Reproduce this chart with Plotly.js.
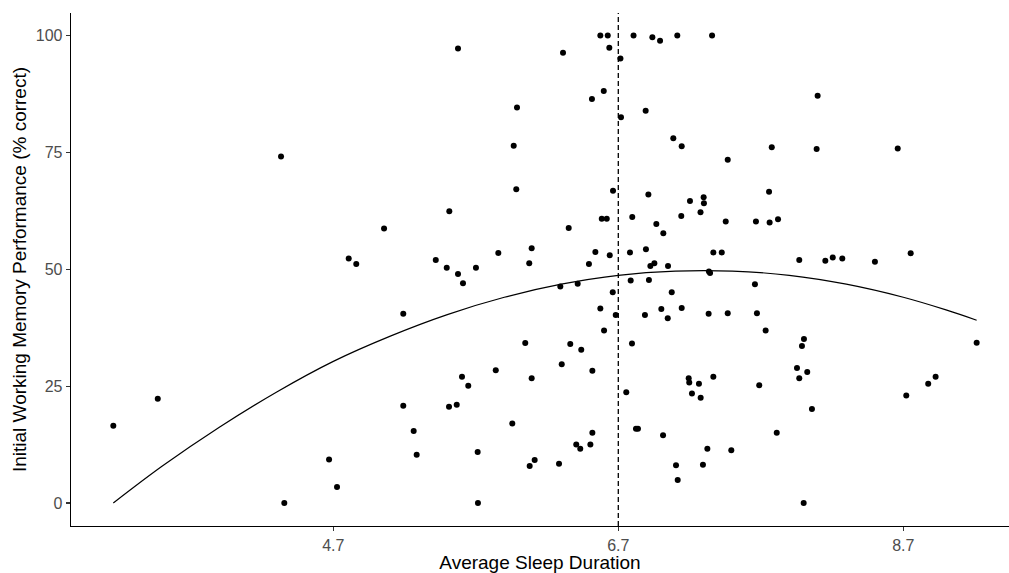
<!DOCTYPE html>
<html>
<head>
<meta charset="utf-8">
<script src="https://cdn.plot.ly/plotly-3.0.1.min.js"></script>
<style>
html,body{margin:0;padding:0;background:#fff;}
#chart{width:1009px;height:573px;}
</style>
</head>
<body>
<div id="chart"></div>
<script>
// Scatter data: average sleep duration (x) vs initial working memory performance (y)
const sleepHours = [
  4.333, 6.574, 6.626, 6.807, 6.939, 6.993, 7.114, 7.358, 5.575, 6.312,
  6.637, 6.715, 6.598, 6.515, 5.989, 6.892, 6.719, 7.086, 7.145, 7.468,
  5.966, 5.984, 6.663, 6.911, 7.203, 7.299, 8.099, 7.777, 8.092, 8.661,
  7.758, 5.056, 4.808, 4.861, 5.191, 5.514, 7.301, 7.277, 7.142, 6.798,
  6.584, 6.619, 6.967, 7.016, 7.454, 6.352, 5.858, 6.092, 5.419, 5.496,
  5.575, 5.701, 5.610, 6.075, 6.539, 6.640, 6.494, 6.782, 6.894, 6.925,
  6.953, 7.049, 7.367, 7.426, 7.336, 7.344, 6.787, 6.915, 6.293, 6.415,
  6.661, 7.075, 6.574, 6.682, 6.887, 7.002, 7.047, 7.145, 7.334, 7.468,
  6.600, 6.047, 6.363, 6.440, 6.796, 6.303, 5.840, 6.518, 5.603, 6.092,
  7.194, 7.367, 7.666, 7.762, 7.821, 7.970, 8.153, 8.205, 8.272, 8.501,
  8.752, 7.659, 7.673, 7.734, 8.003, 7.989, 9.215, 7.954, 8.026, 7.970,
  8.927, 3.156, 3.468, 4.356, 4.670, 4.726, 5.191, 5.264, 5.285, 5.647,
  5.512, 5.566, 5.713, 5.715, 5.956, 6.078, 6.113, 6.284, 6.405, 6.433,
  6.504, 6.518, 6.756, 6.824, 6.838, 7.014, 7.105, 7.117, 7.198, 7.266,
  7.217, 7.278, 7.325, 7.294, 7.493, 7.689, 7.812, 8.059, 8.001, 8.721,
  8.875
];
const memoryScore = [
  74.1, 100, 100, 100, 99.6, 98.9, 100, 100, 97.2, 96.3,
  97.4, 95.1, 88.1, 86.4, 84.6, 83.9, 82.5, 78.0, 76.3, 73.4,
  76.4, 67.1, 66.8, 66.0, 64.6, 65.4, 87.1, 76.1, 75.7, 75.8,
  66.6, 58.7, 52.3, 51.1, 40.5, 62.4, 64.1, 62.2, 61.4, 61.2,
  60.8, 60.8, 59.7, 57.7, 60.2, 58.8, 53.5, 54.5, 52.0, 50.3,
  49.0, 50.3, 47.0, 51.3, 53.7, 53.0, 51.1, 53.6, 54.3, 50.7,
  51.3, 50.7, 53.6, 53.6, 49.5, 49.2, 47.6, 47.7, 46.3, 46.9,
  45.1, 45.1, 41.6, 40.2, 40.2, 41.5, 39.5, 41.7, 40.5, 40.6,
  36.9, 34.2, 34.0, 32.8, 34.1, 29.7, 28.4, 28.3, 27.0, 26.7,
  26.7, 27.0, 60.2, 60.0, 60.7, 52.0, 51.8, 52.5, 52.3, 51.6,
  53.4, 46.8, 40.6, 36.9, 35.1, 33.6, 34.3, 28.9, 28.0, 26.7,
  27.0, 16.5, 22.3, 0, 9.3, 3.4, 20.8, 15.4, 10.3, 25.1,
  20.6, 21.0, 10.9, 0, 17.0, 7.9, 9.2, 8.4, 12.5, 11.6,
  12.5, 15.0, 23.7, 15.9, 15.9, 14.5, 8.1, 4.9, 25.8, 25.5,
  23.4, 22.5, 11.6, 8.2, 11.3, 25.2, 15.0, 20.1, 0, 23.0,
  25.5
];
// Quadratic fit curve
const fitX = [3.156, 3.5, 3.9, 4.3, 4.7, 5.1, 5.5, 5.9, 6.3, 6.7,
              7.1, 7.5, 7.9, 8.3, 8.7, 9.0, 9.215];
const fitY = [0.0, 7.9, 16.2, 23.7, 30.3, 35.7, 40.3, 44.0, 46.8, 48.7,
              49.6, 49.6, 48.7, 46.8, 44.0, 41.3, 39.1];
// Reference line and ticks
const meanSleep = 6.7;
const xTicks = [4.7, 6.7, 8.7];
const xTickLabels = ["4.7", "6.7", "8.7"];
const yTicks = [0, 25, 50, 75, 100];
const yTickLabels = ["0", "25", "50", "75", "100"];

const FONT = "Liberation Sans, Arial, sans-serif";

const traces = [
  {
    x: fitX, y: fitY, type: "scatter", mode: "lines",
    line: {color: "#000000", width: 1.2, shape: "spline", smoothing: 1},
    hoverinfo: "skip", showlegend: false
  },
  {
    x: sleepHours, y: memoryScore, type: "scatter", mode: "markers",
    marker: {color: "#000000", size: 6},
    showlegend: false, cliponaxis: false
  }
];

const layout = {
  width: 1009, height: 573,
  margin: {l: 71, r: 0, t: 13, b: 47},
  paper_bgcolor: "#ffffff", plot_bgcolor: "#ffffff",
  font: {family: FONT, color: "#000000"},
  showlegend: false,
  xaxis: {
    range: [2.859, 9.442],
    tickmode: "array", tickvals: xTicks, ticktext: xTickLabels,
    showgrid: false, zeroline: false,
    showline: true, linecolor: "#000000", linewidth: 1.3,
    ticks: "outside", ticklen: 4, tickwidth: 1.1, tickcolor: "#333333",
    tickfont: {family: FONT, size: 16, color: "#4d4d4d"},
    title: {text: "Average Sleep Duration", font: {family: FONT, size: 19, color: "#000000"}, standoff: 5}
  },
  yaxis: {
    range: [-4.92, 104.81],
    tickmode: "array", tickvals: yTicks, ticktext: yTickLabels,
    showgrid: false, zeroline: false,
    showline: true, linecolor: "#000000", linewidth: 1.3,
    ticks: "outside", ticklen: 4, tickwidth: 1.1, tickcolor: "#333333",
    tickfont: {family: FONT, size: 16, color: "#4d4d4d"},
    title: {text: "Initial Working Memory Performance (% correct)", font: {family: FONT, size: 19, color: "#000000"}, standoff: 4}
  },
  shapes: [{
    type: "line", xref: "x", yref: "paper",
    x0: meanSleep, x1: meanSleep, y0: 0, y1: 1,
    line: {color: "#000000", width: 1.3, dash: "5px,3px"}
  }]
};

Plotly.newPlot("chart", traces, layout, {displayModeBar: false, staticPlot: true});
</script>
</body>
</html>
